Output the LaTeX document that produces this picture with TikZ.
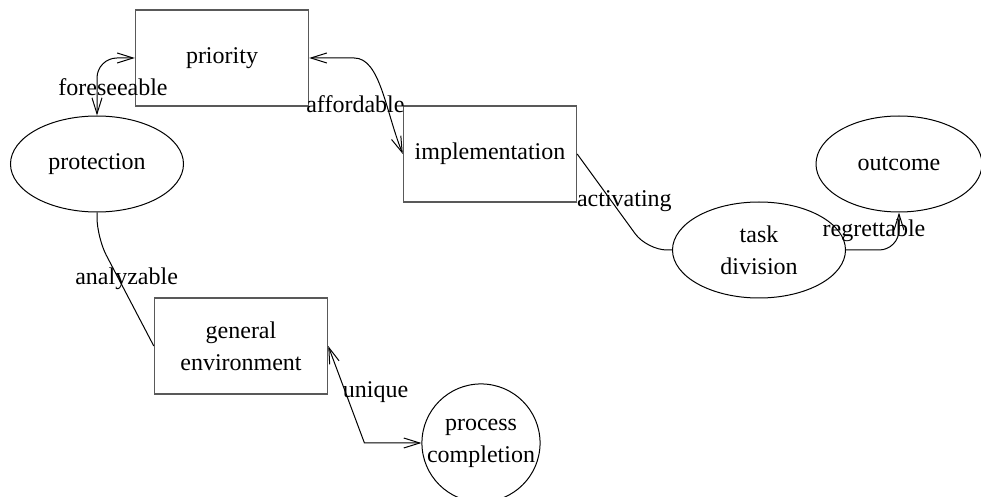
\documentclass[tikz,border=0pt]{standalone}
\usepackage{fontspec}
\setmainfont{Liberation Serif}
\usepackage{tikz}
\usetikzlibrary{shapes.geometric, arrows.meta, positioning, calc}

\begin{document}
\begin{tikzpicture}[
        x=0.5pt, y=-0.5pt,
        font=\fontsize{12}{16}\selectfont,
        box/.style={rectangle, draw=black!65, line width=0.7pt, minimum width=86.5pt, minimum height=48pt, align=center, inner sep=0pt},
        oval/.style={ellipse, draw, line width=0.5pt, minimum width=86.5pt, minimum height=48pt, align=center, inner sep=0pt},
        round/.style={circle, draw, line width=0.5pt, minimum size=58pt, align=center, inner sep=0pt},
        link/.style={line width=0.5pt, rounded corners=10pt},
        biarrow/.style={link, {Straight Barb[length=8pt,width=5pt]}-{Straight Barb[length=8pt,width=5pt]}},
        arrow/.style={link, -{Straight Barb[length=8pt,width=5pt]}},
        lbl/.style={inner sep=0pt}
    ]
    \useasboundingbox (0,0) rectangle (981,497);

    \node[box] (priority) at (222,58) {priority};
    \node[box] (implementation) at (490,154) {implementation};
    \node[oval] (protection) at (97,164) {protection};
    \node[oval, minimum width=83pt] (outcome) at (899,164) {outcome};
    \node[oval] (taskdiv) at (759,250) {task\\division};
    \node[box] (genenv) at (241,346) {general\\environment};
    \node[round] (proc) at (481,443) {process\\completion};

    \draw[biarrow] (protection.north) |- node[lbl, pos=0.25, xshift=8pt] {foreseeable} (priority.west);
    \draw[biarrow] (priority.east) -- ++(25,0) to[out=0, in=112] node[lbl, pos=0.62, xshift=-15pt] {affordable} (implementation.west);
    \draw[link] (implementation.east) -- node[lbl, pos=0.49, xshift=6.5pt] {activating} ([xshift=-12.5pt]taskdiv.west) -- (taskdiv.west);
    \draw[arrow] (taskdiv.east) -| node[lbl, pos=0.75, xshift=-12.5pt] {regrettable} (outcome.south);
    \draw[link] (protection.south) -- ++(0,25) -- node[lbl, pos=0.38, xshift=4pt] {analyzable} (genenv.west);
    \draw[biarrow, rounded corners=0pt] (genenv.east) -- node[lbl, pos=0.48, xshift=15pt] {unique} ([xshift=-28.5pt]proc.west) -- (proc.west);
\end{tikzpicture}
\end{document}
